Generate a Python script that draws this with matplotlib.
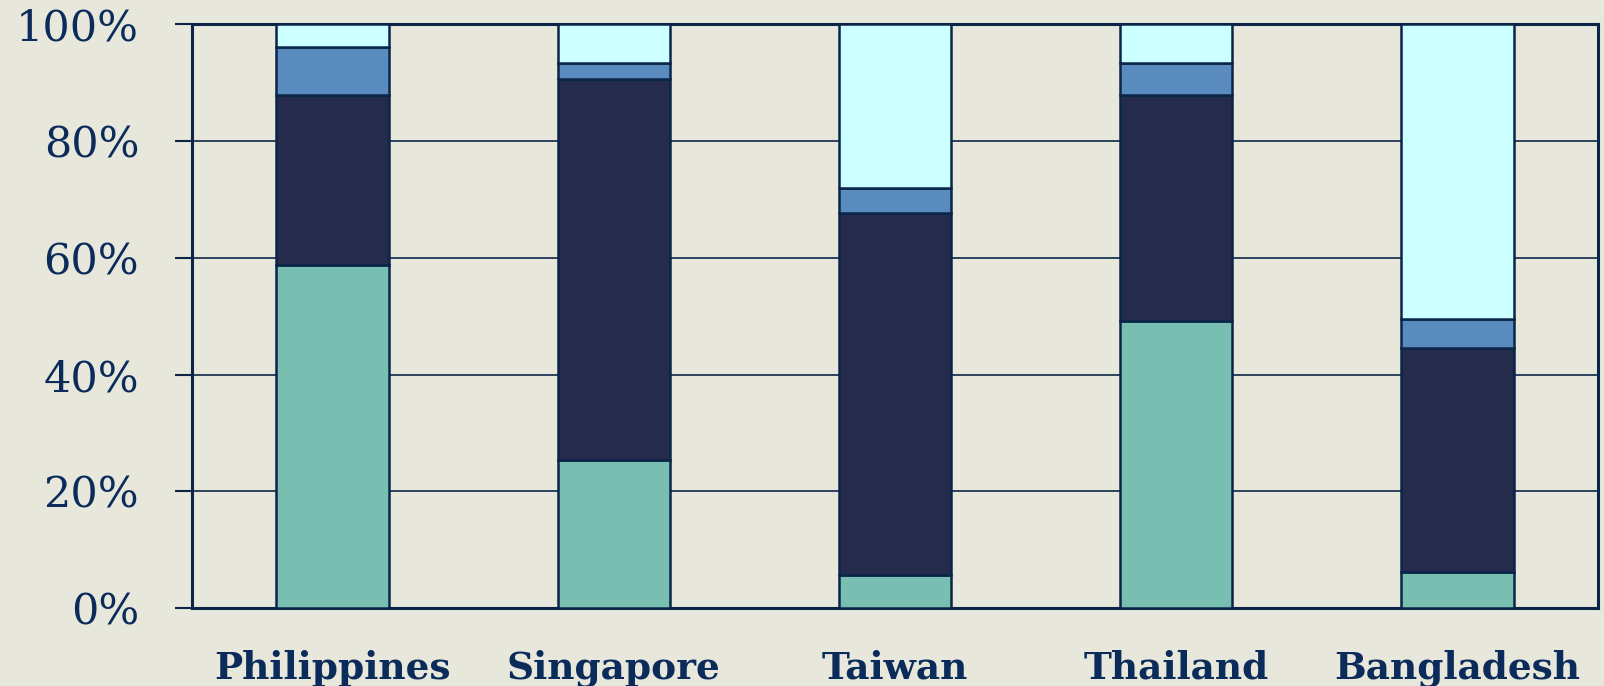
import numpy as np
import matplotlib
matplotlib.use("Agg")
import matplotlib.pyplot as plt

countries = ["Philippines", "Singapore", "Taiwan", "Thailand", "Bangladesh"]
# stacked shares (%), bottom to top
seg1 = [58.8, 25.3, 5.6, 49.1, 6.1]    # teal
seg2 = [29.1, 65.3, 62.1, 38.8, 38.5]  # navy
seg3 = [8.2, 2.8, 4.2, 5.5, 4.9]       # steel blue
seg4 = [3.9, 6.6, 28.1, 6.6, 50.5]     # pale cyan
yticks = [0, 20, 40, 60, 80, 100]

colors = ["#78BFB1", "#252B4B", "#5A8BBE", "#CCFFFF"]
edge = "#0A2548"
txt = "#0B2B5B"
bg = "#E7E7DB"

fig = plt.figure(figsize=(16.04, 6.86), dpi=100, facecolor=bg)
ax = fig.add_axes([0.1197, 0.1137, 0.8766, 0.8506])
ax.set_facecolor(bg)

x = np.arange(len(countries))
bottom = np.zeros(len(countries))
for vals, c in zip([seg1, seg2, seg3, seg4], colors):
    ax.bar(x, vals, width=0.4, bottom=bottom, color=c, edgecolor=edge,
           linewidth=1.8, zorder=3)
    bottom += np.array(vals)

ax.set_xlim(-0.5, len(countries) - 0.5)
ax.set_ylim(0, 100)
ax.set_yticks(yticks)
ax.set_yticklabels([f"{v}%" for v in yticks], family="DejaVu Serif",
                   fontsize=31, color=txt)
ax.set_xticks(x)
ax.set_xticklabels(countries, family="DejaVu Serif", fontweight="bold",
                   fontsize=27, color=txt)
ax.tick_params(axis="y", length=12, width=1.5, color=edge, pad=26)
ax.tick_params(axis="x", length=0, pad=30)
ax.grid(axis="y", color=edge, linewidth=1.2, zorder=0)
for s in ax.spines.values():
    s.set_color(edge)
    s.set_linewidth(2.2)

fig.savefig("out.png", dpi=100, facecolor=bg)
